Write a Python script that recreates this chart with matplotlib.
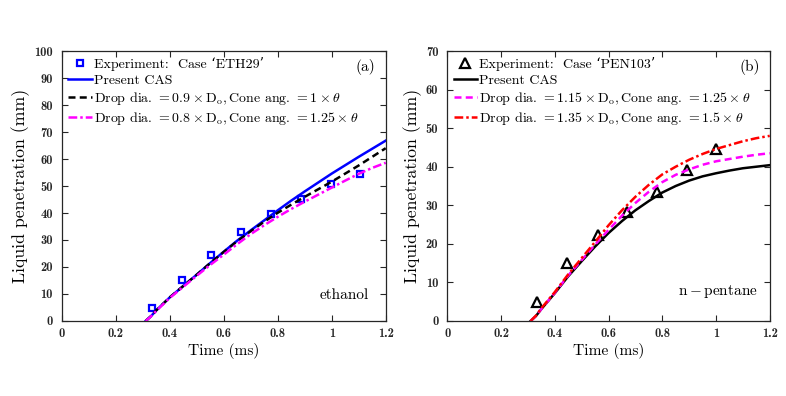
import matplotlib
matplotlib.use('Agg')
import matplotlib.pyplot as plt
from matplotlib.ticker import FormatStrFormatter

plt.rcParams['font.family'] = ['cmr10', 'DejaVu Serif']
plt.rcParams['mathtext.fontset'] = 'cm'
plt.rcParams['axes.unicode_minus'] = False

# --- (a) ethanol ---
eth_exp_t = [0.332, 0.446, 0.553, 0.664, 0.775, 0.885, 0.996, 1.106]
eth_exp_y = [4.7, 15.2, 24.3, 33.0, 39.6, 45.1, 50.6, 54.4]

eth_t = [0.31, 0.33, 0.35, 0.40, 0.45, 0.50, 0.55, 0.60, 0.65, 0.70, 0.75,
         0.80, 0.85, 0.90, 0.95, 1.00, 1.05, 1.10, 1.15, 1.20]
eth_cas = [0.0, 1.8, 4.0, 8.8, 13.0, 17.2, 21.5, 25.7, 29.8, 33.6, 37.3,
           41.0, 44.6, 48.0, 51.3, 54.6, 57.7, 60.8, 63.8, 66.8]
eth_d09 = [0.0, 1.8, 4.0, 8.8, 13.0, 17.2, 21.5, 25.6, 29.6, 33.3, 36.8,
           40.1, 43.1, 46.0, 48.8, 51.6, 54.6, 57.6, 60.8, 64.0]
eth_d08 = [0.0, 1.7, 3.8, 8.6, 12.7, 16.8, 20.8, 24.6, 28.5, 32.2, 35.5,
           38.6, 41.5, 44.2, 46.8, 49.4, 52.0, 54.5, 56.7, 58.6]

# --- (b) n-pentane ---
pen_exp_t = [0.335, 0.444, 0.560, 0.668, 0.779, 0.891, 0.999]
pen_exp_y = [4.8, 15.1, 22.3, 28.3, 33.4, 39.2, 44.5]

pen_t = [0.31, 0.33, 0.35, 0.40, 0.45, 0.50, 0.55, 0.60, 0.65, 0.70, 0.75,
         0.80, 0.85, 0.90, 0.95, 1.00, 1.05, 1.10, 1.15, 1.20]
pen_cas = [0.0, 1.3, 3.1, 7.2, 11.6, 15.5, 19.3, 22.8, 25.9, 28.7, 31.1,
           33.3, 35.0, 36.4, 37.5, 38.3, 39.0, 39.6, 40.0, 40.4]
pen_d115 = [0.0, 1.3, 3.1, 7.3, 11.8, 15.8, 19.8, 23.6, 27.3, 30.6, 33.5,
            36.0, 37.9, 39.3, 40.5, 41.4, 42.0, 42.6, 43.1, 43.5]
pen_d135 = [0.0, 1.4, 3.3, 7.5, 12.1, 16.3, 20.5, 24.8, 28.7, 32.2, 35.3,
            38.0, 40.0, 41.8, 43.3, 44.6, 45.6, 46.6, 47.4, 48.0]

x_ticks = [0, 0.2, 0.4, 0.6, 0.8, 1.0, 1.2]

fig = plt.figure(figsize=(7.86, 3.96), dpi=100)
ax1 = fig.add_axes([0.0789, 0.1894, 0.4118, 0.6818])
ax2 = fig.add_axes([0.5691, 0.1894, 0.4102, 0.6818])

lw = 1.8
dash = (2.8, 1.7)
dashdot = (3.5, 1.2, 1, 1.2)

ax1.plot(eth_exp_t, eth_exp_y, 's', ms=5, mfc='none', mec='blue', mew=1.6,
         label='Experiment:  Case ‘ETH29’')
ax1.plot(eth_t, eth_cas, '-', color='blue', lw=lw, label='Present CAS')
ax1.plot(eth_t, eth_d09, '--', color='black', lw=lw, dashes=dash,
         label=r'Drop dia. $= 0.9 \times \mathrm{D_o},$Cone ang. $= 1 \times \theta$')
ax1.plot(eth_t, eth_d08, '-.', color='magenta', lw=lw, dashes=dashdot,
         label=r'Drop dia. $= 0.8 \times \mathrm{D_o},$Cone ang. $= 1.25 \times \theta$')
ax1.set_ylim(0, 100)
ax1.set_yticks(range(0, 101, 10))
ax1.text(0.967, 0.94, '(a)', transform=ax1.transAxes, ha='right', va='center', fontsize=11)
ax1.text(0.948, 0.096, 'ethanol', transform=ax1.transAxes, ha='right', va='center', fontsize=11)

ax2.plot(pen_exp_t, pen_exp_y, '^', ms=7, mfc='none', mec='black', mew=1.6,
         label='Experiment:  Case ‘PEN103’')
ax2.plot(pen_t, pen_cas, '-', color='black', lw=lw, label='Present CAS')
ax2.plot(pen_t, pen_d115, '--', color='magenta', lw=lw, dashes=dash,
         label=r'Drop dia. $= 1.15 \times \mathrm{D_o},$Cone ang. $= 1.25 \times \theta$')
ax2.plot(pen_t, pen_d135, '-.', color='red', lw=lw, dashes=dashdot,
         label=r'Drop dia. $= 1.35 \times \mathrm{D_o},$Cone ang. $= 1.5 \times \theta$')
ax2.set_ylim(0, 70)
ax2.set_yticks(range(0, 71, 10))
ax2.text(0.969, 0.94, '(b)', transform=ax2.transAxes, ha='right', va='center', fontsize=11)
ax2.text(0.964, 0.108, r'$\mathrm{n}-\mathrm{pentane}$', transform=ax2.transAxes,
         ha='right', va='center', fontsize=11)

for ax in (ax1, ax2):
    ax.set_xlim(0, 1.2)
    ax.set_xticks(x_ticks)
    ax.xaxis.set_major_formatter(FormatStrFormatter('%g'))
    ax.tick_params(direction='in', top=True, right=True, length=4, width=0.8,
                   colors='#262626', labelsize=9)
    ax.tick_params(axis='y', pad=6.5)
    ax.tick_params(axis='x', pad=5)
    for lbl in ax.get_xticklabels() + ax.get_yticklabels():
        lbl.set_fontfamily('cmb10')
    for sp in ax.spines.values():
        sp.set_color('#262626')
        sp.set_linewidth(0.9)
    ax.set_xlabel('Time (ms)', fontsize=11.2, labelpad=2)
    ax.set_ylabel('Liquid penetration (mm)', fontsize=12.8, labelpad=3)
    ax.legend(loc='upper left', frameon=False, fontsize=10, handlelength=1.7,
              handletextpad=0.15, labelspacing=0.22, borderaxespad=0.15,
              borderpad=0.3)

plt.savefig('out.png', dpi=100)
